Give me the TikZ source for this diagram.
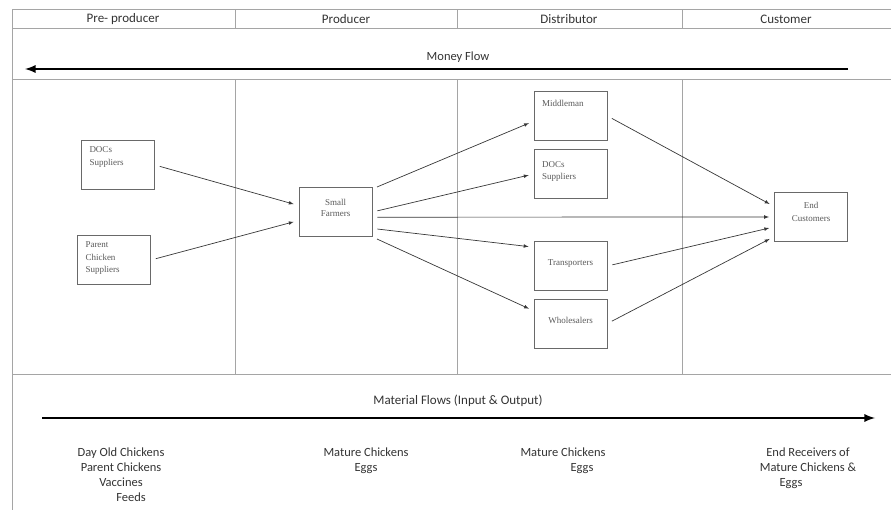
\documentclass[tikz,border=0pt]{standalone}
\usepackage{fontspec}
\setmainfont{Liberation Serif}
\newfontfamily\calib{Carlito}
\usepackage{tikz}
\usetikzlibrary{arrows, positioning, calc}
\definecolor{framegray}{RGB}{165,165,165}
\definecolor{boxgray}{RGB}{105,105,105}
\definecolor{linkgray}{RGB}{55,55,55}

\begin{document}
\begin{tikzpicture}[
    x=1pt, y=-1pt,
    frameline/.style={draw=framegray, line width=1pt},
    unitbox/.style={draw=boxgray, line width=0.9pt, minimum width=73pt, minimum height=49pt,
                    text width=57pt, align=left, inner xsep=8pt, inner ysep=0pt,
                    font=\fontsize{9}{12.5}\selectfont, text=black!65},
    midtext/.style={align=center},
    link/.style={draw=linkgray, -latex, line width=0.7pt, shorten <=5pt, shorten >=5pt},
    flowarrow/.style={draw=black, -latex, line width=2.6pt},
    heading/.style={font=\calib\fontsize{13}{15}\selectfont, text=black!80},
    goods/.style={font=\calib\fontsize{12.5}{15}\selectfont, text=black!80, align=center, anchor=north}
]
    \useasboundingbox (0,0) rectangle (891,510);
    % frame of the table
    \draw[frameline] (12,10) -- (891,10);
    \draw[frameline] (12,29) -- (891,29);
    \draw[frameline] (12,80) -- (891,80);
    \draw[frameline] (12,374) -- (891,374);
    \draw[frameline] (12,10) -- (12,510);
    \foreach \xx in {235,457,682} {
        \draw[frameline] (\xx,10) -- (\xx,29);
        \draw[frameline] (\xx,80) -- (\xx,374);
    }

    % column headings
    \node[heading] (hpre)  at (123,19.5) {Pre- producer};
    \node[heading] (hprod) at (346,19.5) {Producer};
    \node[heading] (hdist) at (569,19.5) {Distributor};
    \node[heading] (hcust) at (786,19.5) {Customer};

    % money flow
    \node[heading, font=\calib\fontsize{12.5}{15}\selectfont] (money) at (458,57) {Money Flow};
    \coordinate (moneyR) at (848,69);
    \coordinate (moneyL) at (25,69);
    \draw[flowarrow] (moneyR) -- (moneyL);

    % actors
    \node[unitbox, text height=12.5pt, text depth=36.5pt] (docsA) at (118,165) {DOCs\\Suppliers};
    \node[unitbox, text height=12.5pt, text depth=36.5pt] (parent) at (114,260) {Parent\\Chicken\\Suppliers};
    \node[unitbox, midtext, text height=18.5pt, text depth=30.5pt,
          font=\fontsize{9}{11}\selectfont] (farmers) at (335.5,212) {Small\\Farmers};
    \node[unitbox, text height=15.5pt, text depth=33.5pt] (middle) at (570.5,116) {Middleman};
    \node[unitbox, text height=18.5pt, text depth=30.5pt,
          font=\fontsize{9}{12}\selectfont] (docsB) at (570.5,174) {DOCs\\Suppliers};
    \node[unitbox, midtext, text height=24.5pt, text depth=24.5pt] (transp) at (570.5,266) {Transporters};
    \node[unitbox, midtext, text height=24.5pt, text depth=24.5pt] (whole) at (570.5,323.5) {Wholesalers};
    \node[unitbox, midtext, text height=16.5pt, text depth=32.5pt] (endc) at (811,217) {End\\Customers};

    % links
    \draw[link] (docsA.east) -- (farmers.170);
    \draw[link] (parent.east) -- (farmers.193);
    \draw[link] (farmers.32) -- (middle.188);
    \draw[link] (farmers.east) -- (docsB.west);
    \draw[link] (farmers.352) -- (endc.west);
    \draw[link] (farmers.336) -- (transp.153);
    \draw[link] (farmers.326) -- (whole.161);
    \draw[link] (middle.east) -- (endc.164);
    \draw[link] (transp.east) -- (endc.195);
    \draw[link] (whole.east) -- (endc.208);

    % material flow
    \node[heading] (material) at (458,401) {Material Flows (Input \& Output)};
    \coordinate (matL) at (42,418);
    \coordinate (matR) at (875,418);
    \draw[flowarrow] (matL) -- (matR);

    \node[goods] (gpre)  at (121,444) {Day Old Chickens\\Parent Chickens\\Vaccines\\\hspace*{20pt}Feeds};
    \node[goods] (gprod) at (366,444) {Mature Chickens\\Eggs};
    \node[goods] (gdist) at (563,444) {Mature Chickens\\\hspace*{38pt}Eggs};
    \node[goods] (gcust) at (808,444) {End Receivers of\\Mature Chickens \&\\\hspace*{-34pt}Eggs};
\end{tikzpicture}
\end{document}
